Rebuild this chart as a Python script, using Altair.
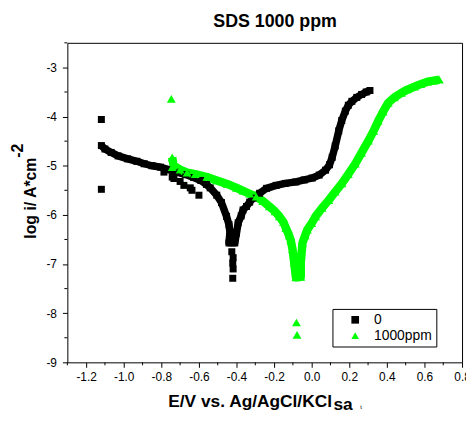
import altair as alt
import pandas as pd

# ---------------- data ----------------
series_names = ["0", "1000ppm"]

# blank (0) – continuous sweep of markers
black_curve_x = [-1.119, -1.10, -1.067, -1.03, -0.979, -0.93, -0.891, -0.85, -0.804, -0.76,
                 -0.716, -0.67, -0.628, -0.59, -0.56, -0.54, -0.505, -0.48, -0.453, -0.44,
                 -0.435, -0.44, -0.409, -0.40, -0.391, -0.375, -0.365, -0.347, -0.33, -0.312,
                 -0.277, -0.24, -0.189, -0.14, -0.084, -0.04, 0.003, 0.04, 0.074, 0.095,
                 0.109, 0.125, 0.144, 0.16, 0.179, 0.195, 0.214, 0.24, 0.266, 0.29, 0.31]
black_curve_y = [-4.59, -4.66, -4.73, -4.80, -4.86, -4.91, -4.96, -5.00, -5.03, -5.08,
                 -5.13, -5.18, -5.24, -5.30, -5.38, -5.45, -5.60, -5.75, -6.03, -6.20,
                 -6.35, -6.57, -6.57, -6.37, -6.16, -6.02, -5.90, -5.83, -5.74, -5.66,
                 -5.56, -5.46, -5.40, -5.36, -5.33, -5.29, -5.25, -5.19, -5.09, -4.98,
                 -4.83, -4.60, -4.29, -4.08, -3.89, -3.77, -3.69, -3.61, -3.55, -3.50, -3.47]
black_extra_x = [-1.119, -1.119, -0.786, -0.742, -0.733, -0.70, -0.68, -0.646, -0.637, -0.60,
                 -0.425, -0.418, -0.42, -0.418, -0.42]
black_extra_y = [-4.06, -5.48, -5.13, -5.23, -5.26, -5.32, -5.40, -5.45, -5.50, -5.60,
                 -6.75, -6.87, -6.98, -7.10, -7.29]

# 1000 ppm – continuous sweep of markers
green_curve_x = [-0.742, -0.735, -0.70, -0.663, -0.62, -0.558, -0.505, -0.45, -0.40, -0.365,
                 -0.33, -0.295, -0.26, -0.225, -0.195, -0.172, -0.15, -0.137, -0.12, -0.111,
                 -0.102, -0.093, -0.084, -0.058, -0.058, -0.049, -0.035, -0.023, 0.0, 0.021,
                 0.055, 0.091, 0.125, 0.161, 0.195, 0.232, 0.265, 0.302, 0.33, 0.354,
                 0.38, 0.407, 0.44, 0.477, 0.51, 0.547, 0.58, 0.617, 0.65, 0.679]
green_curve_y = [-4.83, -5.00, -5.08, -5.14, -5.17, -5.23, -5.30, -5.37, -5.45, -5.51,
                 -5.57, -5.63, -5.72, -5.83, -5.93, -6.03, -6.15, -6.27, -6.42, -6.52,
                 -6.70, -6.97, -7.27, -7.26, -6.97, -6.57, -6.42, -6.30, -6.17, -6.03,
                 -5.86, -5.70, -5.53, -5.36, -5.17, -4.96, -4.74, -4.49, -4.29, -4.09,
                 -3.90, -3.72, -3.61, -3.52, -3.45, -3.39, -3.34, -3.29, -3.27, -3.25]
green_extra_x = [-0.747, -0.742, -0.095, -0.06, -0.075, -0.081, -0.078]
green_extra_y = [-3.64, -5.03, -6.80, -6.80, -7.10, -8.19, -8.44]

# axis ticks
x_major_ticks = [-1.2, -1.0, -0.8, -0.6, -0.4, -0.2, 0.0, 0.2, 0.4, 0.6, 0.8]
x_minor_ticks = [-1.3, -1.1, -0.9, -0.7, -0.5, -0.3, -0.1, 0.1, 0.3, 0.5, 0.7]
y_major_ticks = [-9, -8, -7, -6, -5, -4, -3]
y_minor_ticks = [-8.5, -7.5, -6.5, -5.5, -4.5, -3.5, -2.5]

# ---------------- tables ----------------
black_line_df = pd.DataFrame({"E": black_curve_x, "logi": black_curve_y,
                              "order": list(range(len(black_curve_x)))})
green_line_df = pd.DataFrame({"E": green_curve_x, "logi": green_curve_y,
                              "order": list(range(len(green_curve_x)))})
black_pt_df = pd.DataFrame({"series": series_names[0],
                            "E": black_curve_x + black_extra_x,
                            "logi": black_curve_y + black_extra_y})
green_pt_df = pd.DataFrame({"series": series_names[1],
                            "E": green_curve_x + green_extra_x,
                            "logi": green_curve_y + green_extra_y})
x_minor_df = pd.DataFrame({"E": x_minor_ticks})
y_minor_df = pd.DataFrame({"logi": y_minor_ticks})

FONT = "Liberation Sans"
MINUS = "\u2212"
W, H = 399, 323

color_scale = alt.Scale(domain=series_names, range=["#000000", "#00ff00"])
shape_scale = alt.Scale(domain=series_names, range=["square", "triangle-up"])

x_axis = alt.Axis(
    values=x_major_ticks, title=None, grid=False, domain=False,
    tickColor="black", tickWidth=1, tickSize=5,
    labelExpr="replace(format(datum.value, '.1f'), '" + MINUS + "', '-')",
    labelFont=FONT, labelFontSize=12, labelColor="black", labelPadding=4,
    labelOverlap=False, labelFlush=False, labelBound=False,
)
y_axis = alt.Axis(
    values=y_major_ticks, title=None, grid=False, domain=False,
    tickColor="black", tickWidth=1, tickSize=5,
    labelExpr="replace(format(datum.value, 'd'), '" + MINUS + "', '-')",
    labelFont=FONT, labelFontSize=12, labelColor="black", labelPadding=6,
    labelOverlap=False, labelFlush=False, labelBound=False,
)
x_scale = alt.Scale(domain=[-1.3, 0.8], nice=False, zero=False)
y_scale = alt.Scale(domain=[-9, -2.5], nice=False, zero=False)


def X():
    return alt.X("E:Q", scale=x_scale, axis=x_axis)


def Y():
    return alt.Y("logi:Q", scale=y_scale, axis=y_axis)


legend = alt.Legend(title=None, orient="none", legendX=268, legendY=269)

line_black = alt.Chart(black_line_df).mark_line(
    color="#000000", strokeWidth=7.5, strokeCap="butt", strokeJoin="round"
).encode(x=X(), y=Y(), order="order:Q")
line_green = alt.Chart(green_line_df).mark_line(
    color="#00ff00", strokeWidth=8.5, strokeCap="butt", strokeJoin="round"
).encode(x=X(), y=Y(), order="order:Q")


def pts(df, size):
    return alt.Chart(df).mark_point(filled=True, opacity=1, size=size).encode(
        x=X(), y=Y(),
        color=alt.Color("series:N", scale=color_scale, legend=legend),
        shape=alt.Shape("series:N", scale=shape_scale, legend=legend),
    )


pts_black = pts(black_pt_df, 50)
pts_green = pts(green_pt_df, 80)

x_minor = alt.Chart(x_minor_df).mark_rule(color="black", strokeWidth=1).encode(
    x=X(), y=alt.value(H), y2=alt.value(H + 3))
y_minor = alt.Chart(y_minor_df).mark_rule(color="black", strokeWidth=1).encode(
    y=Y(), x=alt.value(0), x2=alt.value(-3))

one = pd.DataFrame({"k": [0]})


def label(text, x, y, size, bold=True, angle=0, align="left"):
    kw = dict(font=FONT, fontSize=size, fontWeight="bold" if bold else "normal",
              color="black", align=align, baseline="alphabetic")
    if angle:
        kw["angle"] = angle
    return alt.Chart(one).mark_text(**kw).encode(
        x=alt.value(x), y=alt.value(y), text=alt.value(text))


texts = [
    label("SDS 1000 ppm", 210, -16, 18, align="center"),
    label("E/V vs. Ag/AgCl/KCl", 102, 368, 17.5),
    label("sa", 269, 371, 17.5),
    label("t", 296, 370, 6, bold=False),
    label("log i/ A*cm", -32, 157, 16, angle=270, align="center"),
    label("-2", -45, 109, 16, angle=270, align="center"),
]

chart = alt.layer(line_black, line_green, pts_black, pts_green, x_minor, y_minor, *texts).properties(
    width=W, height=H,
    padding={"left": 60, "top": 33, "right": 4, "bottom": 49},
    autosize=alt.AutoSizeParams(type="none"),
    background="white",
).configure_view(
    stroke="black", strokeWidth=1
).configure_legend(
    strokeColor="black", fillColor="white", padding=4, cornerRadius=0,
    labelFont=FONT, labelFontSize=14, labelColor="black",
    symbolSize=60, symbolStrokeWidth=0, symbolOffset=12, labelOffset=12, rowPadding=2,
)

chart.save("out.html", embed_options={"renderer": "svg", "actions": False})
